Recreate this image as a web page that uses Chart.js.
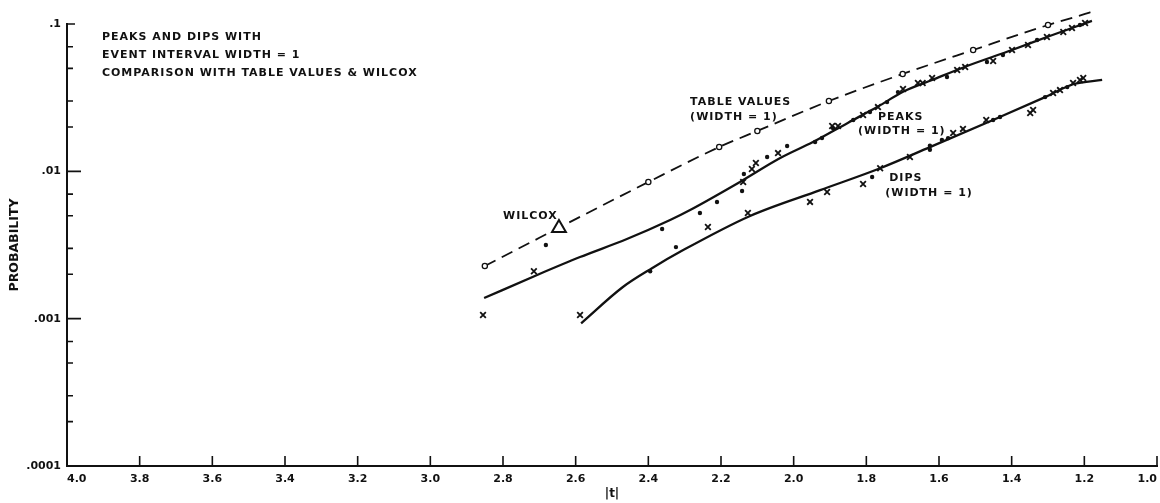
<!DOCTYPE html>
<html lang="en">
<head>
<meta charset="UTF-8">
<title>Peaks and Dips - Probability vs |t|</title>
<script src="https://cdn.jsdelivr.net/npm/chart.js@4.4.1/dist/chart.umd.min.js"></script>
<style>
  html, body { margin: 0; padding: 0; background: #fff; }
  #chart { display: block; }
</style>
</head>
<body>
<canvas id="chart" width="1160" height="503"></canvas>
<script>
// axes: |t| runs 4.0 -> 1.0 (reversed), probability on a log scale
const xTicks = [1.0, 1.2, 1.4, 1.6, 1.8, 2.0, 2.2, 2.4, 2.6, 2.8, 3.0, 3.2, 3.4, 3.6, 3.8, 4.0];
const xTickLabels = ['1.0', '1.2', '1.4', '1.6', '1.8', '2.0', '2.2', '2.4', '2.6', '2.8', '3.0', '3.2', '3.4', '3.6', '3.8', '4.0'];
const yDecades = [0.0001, 0.001, 0.01, 0.1];
const yDecadeLabels = ['.0001', '.001', '.01', '.1'];
const yMinorSteps = [2, 3, 5, 7];

// table values (dashed curve, open circles)
const tableX = [2.85, 2.40, 2.205, 2.10, 1.903, 1.70, 1.506, 1.30, 1.198, 1.18];
const tableY = [0.00228, 0.00846, 0.01462, 0.0188, 0.030, 0.0458, 0.0666, 0.0984, 0.117, 0.121];

// fitted curves
const peaksCurveX = [2.852, 2.706, 2.588, 2.459, 2.340, 2.285, 2.148, 2.037, 1.947, 1.85, 1.768, 1.699, 1.619, 1.528, 1.399, 1.303, 1.179];
const peaksCurveY = [0.00138, 0.00198, 0.00262, 0.00347, 0.00467, 0.00546, 0.00846, 0.0123, 0.0158, 0.0214, 0.0275, 0.0347, 0.0417, 0.0513, 0.0666, 0.0816, 0.105];
const dipsCurveX = [2.585, 2.47, 2.39, 2.304, 2.12, 1.927, 1.762, 1.625, 1.432, 1.308, 1.231, 1.151];
const dipsCurveY = [0.00093, 0.00164, 0.0022, 0.00292, 0.00498, 0.00746, 0.0105, 0.0146, 0.0234, 0.0319, 0.0390, 0.0417];

// observed peaks
const peaksCrossX = [2.855, 2.715, 2.139, 2.115, 2.104, 2.043, 1.894, 1.878, 1.809, 1.768, 1.699, 1.658, 1.645, 1.619, 1.55, 1.528, 1.451, 1.399, 1.355, 1.303, 1.258, 1.234, 1.198];
const peaksCrossY = [0.00106, 0.0021, 0.00846, 0.01037, 0.01138, 0.0133, 0.0203, 0.0203, 0.0241, 0.0273, 0.0362, 0.0398, 0.0398, 0.0430, 0.0487, 0.0511, 0.0561, 0.0666, 0.0720, 0.0816, 0.0883, 0.0940, 0.1016];
const peaksDotX = [2.682, 2.362, 2.258, 2.211, 2.142, 2.137, 2.073, 2.018, 1.941, 1.922, 1.892, 1.836, 1.79, 1.743, 1.713, 1.578, 1.468, 1.424, 1.33, 1.212];
const peaksDotY = [0.00316, 0.00406, 0.00521, 0.00619, 0.00735, 0.00959, 0.0125, 0.01485, 0.0158, 0.01683, 0.0197, 0.0223, 0.0253, 0.0295, 0.0345, 0.0437, 0.0552, 0.0616, 0.0778, 0.0984];

// observed dips
const dipsCrossX = [2.588, 2.236, 2.126, 1.955, 1.908, 1.809, 1.762, 1.680, 1.561, 1.534, 1.470, 1.349, 1.341, 1.286, 1.267, 1.231, 1.212, 1.203];
const dipsCrossY = [0.00106, 0.00419, 0.00521, 0.0062, 0.00724, 0.0082, 0.0105, 0.0125, 0.0182, 0.0194, 0.0223, 0.0249, 0.0261, 0.0340, 0.0356, 0.0398, 0.0417, 0.0430];
const dipsDotX = [2.395, 2.324, 1.784, 1.625, 1.625, 1.592, 1.575, 1.451, 1.432, 1.308, 1.247];
const dipsDotY = [0.0021, 0.00306, 0.00915, 0.0140, 0.0149, 0.0163, 0.0168, 0.0223, 0.0234, 0.0319, 0.0373];

const wilcoxX = [2.646];
const wilcoxY = [0.00412];

const INK = '#111';
const FONT = '"DejaVu Sans", sans-serif';

const pts = (xs, ys) => xs.map((x, i) => ({ x: x, y: ys[i] }));
const isDecade = v => Math.abs(Math.log10(v) - Math.round(Math.log10(v))) < 1e-6;

// text written on the plot, anchored in data coordinates
const notes = [
  { text: 'PEAKS AND DIPS WITH', x: 3.904, y: 0.0816 },
  { text: 'EVENT INTERVAL WIDTH = 1', x: 3.904, y: 0.0616 },
  { text: 'COMPARISON WITH TABLE VALUES & WILCOX', x: 3.904, y: 0.0465 },
  { text: 'TABLE VALUES', x: 2.285, y: 0.0295 },
  { text: '(WIDTH = 1)', x: 2.285, y: 0.0234 },
  { text: 'PEAKS', x: 1.768, y: 0.0234 },
  { text: '(WIDTH = 1)', x: 1.823, y: 0.0188 },
  { text: 'DIPS', x: 1.737, y: 0.00902 },
  { text: '(WIDTH = 1)', x: 1.748, y: 0.00713 },
  { text: 'WILCOX', x: 2.800, y: 0.00498 }
];

// tick marks point into the plot, as on the original graph paper;
// x labels drawn here too so the end labels sit inside the axis
const axisMarks = {
  id: 'axisMarks',
  afterDraw(chart) {
    const { ctx, chartArea: a, scales: { x, y } } = chart;
    ctx.save();
    ctx.strokeStyle = INK;
    ctx.lineWidth = 1.6;
    ctx.beginPath();
    xTicks.forEach(v => {
      const px = x.getPixelForValue(v);
      ctx.moveTo(px, a.bottom);
      ctx.lineTo(px, a.bottom - 10);
    });
    y.ticks.forEach(t => {
      const py = y.getPixelForValue(t.value);
      let len = 6;
      if (isDecade(t.value)) len = t.value >= 0.1 ? 8 : 14;
      ctx.moveTo(a.left, py);
      ctx.lineTo(a.left + len, py);
    });
    ctx.stroke();

    ctx.fillStyle = INK;
    ctx.font = 'bold 11px ' + FONT;
    ctx.textBaseline = 'middle';
    xTicks.forEach((v, i) => {
      ctx.textAlign = i === 0 ? 'right' : (i === xTicks.length - 1 ? 'left' : 'center');
      ctx.fillText(xTickLabels[i], x.getPixelForValue(v), a.bottom + 13);
    });
    ctx.restore();
  }
};

const plotNotes = {
  id: 'plotNotes',
  afterDraw(chart) {
    const { ctx, scales: { x, y } } = chart;
    ctx.save();
    ctx.fillStyle = INK;
    ctx.font = 'bold 11px ' + FONT;
    ctx.letterSpacing = '1px';
    ctx.textAlign = 'left';
    ctx.textBaseline = 'middle';
    notes.forEach(n => {
      ctx.fillText(n.text, x.getPixelForValue(n.x), y.getPixelForValue(n.y));
    });
    ctx.restore();
  }
};

new Chart(document.getElementById('chart'), {
  type: 'scatter',
  data: {
    datasets: [
      {
        label: 'Wilcox',
        data: pts(wilcoxX, wilcoxY),
        pointStyle: 'triangle',
        pointRadius: 8,
        borderWidth: 2,
        borderColor: INK,
        backgroundColor: '#fff'
      },
      {
        label: 'Wilcox centre',
        data: pts(wilcoxX, wilcoxY),
        pointStyle: 'circle',
        pointRadius: 1.6,
        borderWidth: 0,
        backgroundColor: INK
      },
      {
        label: 'Peaks x',
        data: pts(peaksCrossX, peaksCrossY),
        pointStyle: 'crossRot',
        pointRadius: 4,
        borderWidth: 1.8,
        borderColor: INK
      },
      {
        label: 'Peaks dots',
        data: pts(peaksDotX, peaksDotY),
        pointStyle: 'circle',
        pointRadius: 2.2,
        borderWidth: 0,
        backgroundColor: INK
      },
      {
        label: 'Dips x',
        data: pts(dipsCrossX, dipsCrossY),
        pointStyle: 'crossRot',
        pointRadius: 4,
        borderWidth: 1.8,
        borderColor: INK
      },
      {
        label: 'Dips dots',
        data: pts(dipsDotX, dipsDotY),
        pointStyle: 'circle',
        pointRadius: 2.2,
        borderWidth: 0,
        backgroundColor: INK
      },
      {
        label: 'Table values',
        data: pts(tableX, tableY),
        showLine: true,
        borderDash: [12, 7],
        borderWidth: 1.8,
        borderColor: INK,
        backgroundColor: '#fff',
        cubicInterpolationMode: 'monotone',
        pointStyle: 'circle',
        pointRadius: c => (c.dataIndex === tableX.length - 1 ? 0 : 2.6),
        pointBorderWidth: 1.3
      },
      {
        label: 'Peaks',
        data: pts(peaksCurveX, peaksCurveY),
        showLine: true,
        borderWidth: 2.3,
        borderColor: INK,
        cubicInterpolationMode: 'monotone',
        pointRadius: 0
      },
      {
        label: 'Dips',
        data: pts(dipsCurveX, dipsCurveY),
        showLine: true,
        borderWidth: 2.3,
        borderColor: INK,
        cubicInterpolationMode: 'monotone',
        pointRadius: 0
      }
    ]
  },
  options: {
    responsive: false,
    animation: false,
    devicePixelRatio: 1,
    clip: false,
    layout: { autoPadding: false, padding: { top: 24, right: 3, left: 0, bottom: 0 } },
    plugins: {
      legend: { display: false },
      tooltip: { enabled: false }
    },
    scales: {
      x: {
        type: 'linear',
        reverse: true,
        min: 1,
        max: 4,
        afterBuildTicks: s => { s.ticks = xTicks.map(v => ({ value: v })); },
        afterFit: s => { s.height = 37; s.paddingLeft = 0; s.paddingRight = 0; },
        grid: { display: false, drawTicks: false },
        border: { display: true, color: INK, width: 2 },
        ticks: { display: false },
        title: {
          display: true,
          text: '|t|',
          color: INK,
          padding: { top: 0, bottom: 2 },
          font: { family: FONT, size: 12, weight: 'bold' }
        }
      },
      y: {
        type: 'logarithmic',
        min: 0.0001,
        max: 0.1,
        afterBuildTicks: s => {
          const t = [];
          yDecades.forEach((d, i) => {
            t.push({ value: d });
            if (i < yDecades.length - 1) yMinorSteps.forEach(m => t.push({ value: d * m }));
          });
          s.ticks = t;
        },
        afterFit: s => { s.width = 67; s.paddingTop = 0; s.paddingBottom = 0; },
        grid: { display: false, drawTicks: false },
        border: { display: true, color: INK, width: 2 },
        ticks: {
          padding: 6,
          autoSkip: false,
          color: INK,
          font: { family: FONT, size: 11, weight: 'bold' },
          callback: v => {
            const i = yDecades.findIndex(d => Math.abs(d - v) / d < 1e-6);
            return i >= 0 ? yDecadeLabels[i] : '';
          }
        },
        title: {
          display: true,
          text: 'PROBABILITY',
          color: INK,
          padding: { top: 7, bottom: 0 },
          font: { family: FONT, size: 12.5, weight: 'bold' }
        }
      }
    }
  },
  plugins: [axisMarks, plotNotes]
});
</script>
</body>
</html>
